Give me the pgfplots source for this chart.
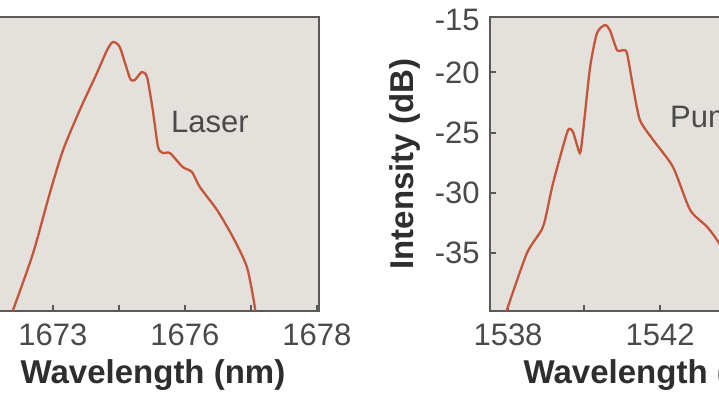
\documentclass[border=0pt]{standalone}
\usepackage{fontspec}
\setmainfont{Liberation Sans}
\usepackage{pgfplots}
\pgfplotsset{compat=1.18}
\definecolor{bg}{HTML}{E4E1DC}
\definecolor{frame}{HTML}{5A5A5A}
\definecolor{curve}{HTML}{C4553A}
\definecolor{txt}{HTML}{4A4A4A}
\definecolor{lab}{HTML}{2E2E2E}
\pgfplotsset{mystyle/.style={
  scale only axis, width=166pt, height=147pt,
  axis background/.style={fill=bg},
  axis line style={frame, line width=1.2pt},
  tick align=inside, tick pos=left,
  major tick length=3pt, tick style={frame, line width=1pt},
  ymin=-39.8, ymax=-15.4,
  ytick={-35,-30,-25,-20},
  ticklabel style={font=\fontsize{15.5}{16}\selectfont, text=txt},
  xticklabel style={anchor=base, yshift=-17.5pt},
  yticklabel style={anchor=east, inner sep=0pt, xshift=-5pt},
  xlabel style={font=\fontsize{16.5}{17}\selectfont\bfseries, text=lab,
                at={(axis description cs:0.5,-0.245)}, anchor=base},
  ylabel style={font=\fontsize{16.5}{17}\selectfont\bfseries, text=lab,
                at={(axis description cs:-0.256,0.5)}, anchor=center},
  /pgf/number format/assume math mode=true,
  clip=true,
}}
\begin{document}
\begin{tikzpicture}
\useasboundingbox (0,0) rectangle (359.5pt,-202.5pt);
\clip (0,0) rectangle (359.5pt,-202.5pt);
\begin{axis}[mystyle, at={(-6.5pt,-8.5pt)}, anchor=north west,
  xmin=1671.5, xmax=1679.05,
  xtick={1673,1674.5,1676,1677.5,1679},
  xticklabels={1673,,1676,,1678},
  yticklabels={},
  xlabel={Wavelength (nm)}]
\addplot[curve, line width=1.15pt, smooth, tension=0.4] coordinates {
(1671.95,-41) (1672.11,-39.54) (1672.55,-34.98) (1672.93,-30.00) (1673.23,-26.44)
(1673.61,-23.12) (1674.00,-20.05) (1674.23,-18.15) (1674.36,-17.48)
(1674.52,-17.90) (1674.75,-20.47) (1674.86,-20.63) (1675.02,-19.97)
(1675.14,-20.39) (1675.27,-23.12) (1675.39,-26.19) (1675.50,-26.69)
(1675.66,-26.69) (1675.95,-27.85) (1676.16,-28.26) (1676.34,-29.51)
(1676.73,-31.41) (1677.09,-33.65) (1677.41,-36.14) (1677.59,-39.46) (1677.62,-41)
};
\node[font=\fontsize{15.5}{16}\selectfont, text=txt] at (axis cs:1676.57,-24.12) {Laser};
\end{axis}
\begin{axis}[mystyle, name=R, at={(245pt,-8.5pt)}, anchor=north west,
  xmin=1537.526, xmax=1546.26,
  xtick={1538,1540,1542,1544,1546},
  xticklabels={1538,,1542,,},
  yticklabels={-35,-30,-25,-20},
  xlabel={Wavelength (nm)},
  ylabel={Intensity (dB)}]
\addplot[curve, line width=1.15pt, smooth, tension=0.4] coordinates {
(1537.85,-41) (1537.97,-39.71) (1538.50,-34.98) (1538.92,-32.82) (1539.16,-29.51)
(1539.37,-27.02) (1539.58,-24.78) (1539.71,-24.95) (1539.89,-26.69)
(1539.97,-25.03) (1540.16,-19.56) (1540.34,-16.74) (1540.55,-16.07)
(1540.68,-16.49) (1540.87,-18.15) (1541.03,-18.15) (1541.13,-18.40)
(1541.29,-21.21) (1541.47,-23.95) (1541.82,-25.61) (1542.34,-27.85)
(1542.79,-31.41) (1543.24,-32.82) (1543.55,-34.15) (1543.97,-36.39)
(1544.6,-38.88) (1544.8,-41)
};
\node[font=\fontsize{15.5}{16}\selectfont, text=txt, anchor=west] at (axis cs:1542.08,-23.95) {Pump};
\end{axis}
\node[font=\fontsize{15.5}{16}\selectfont, text=txt, anchor=east, inner sep=0pt]
  at ([xshift=-5pt,yshift=-1.5pt]R.north west) {-15};
\end{tikzpicture}
\end{document}
